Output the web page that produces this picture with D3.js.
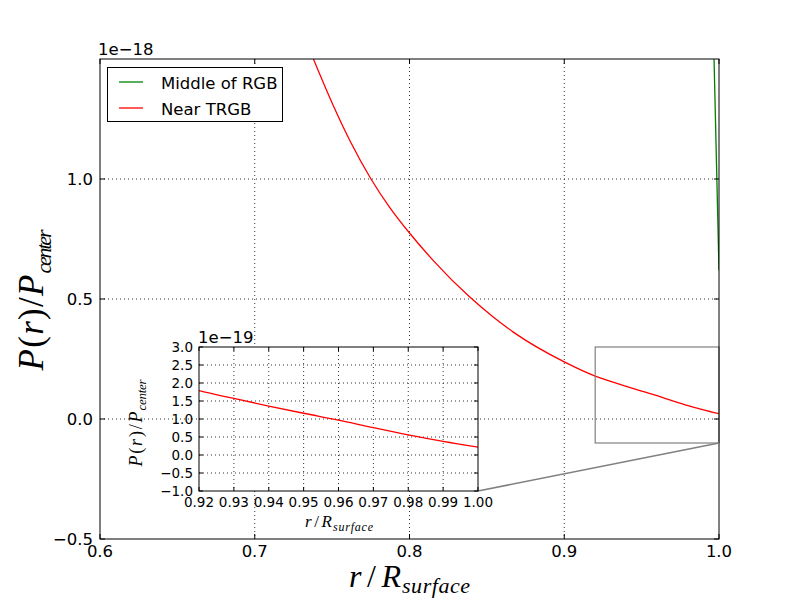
<!DOCTYPE html>
<html>
<head>
<meta charset="utf-8">
<script src="https://cdn.jsdelivr.net/npm/d3@7"></script>
<style>
  html, body { margin: 0; padding: 0; background: #fff; }
  svg { display: block; font-family: "DejaVu Sans", sans-serif; }
</style>
</head>
<body>
<svg id="chart" width="800" height="600"></svg>
<script>
// ---- data (values in units of 1e-18) ----
const redR = [0.7379, 0.7508, 0.7616, 0.7751, 0.7874, 0.8000, 0.8154, 0.8386, 0.8541,
              0.8671, 0.9000, 0.9200, 0.9300, 0.9400, 0.9500, 0.9600, 0.9700, 0.9800, 0.9900, 1.0000];
const redV = [1.500, 1.305, 1.158, 1.000, 0.880, 0.775, 0.660, 0.510, 0.425,
              0.362, 0.238, 0.179, 0.157, 0.136, 0.116, 0.097, 0.076, 0.056, 0.038, 0.022];
const greenR = [0.9968, 1.0000];
const greenV = [1.500, 0.620];

const seriesNames = ["Middle of RGB", "Near TRGB"];
const seriesColors = ["#008000", "#ff0000"];

const mainXTicks = [0.6, 0.7, 0.8, 0.9, 1.0];
const mainYTicks = [-0.5, 0.0, 0.5, 1.0];
const insetXTicks = [0.92, 0.93, 0.94, 0.95, 0.96, 0.97, 0.98, 0.99, 1.00];
const insetYTicks = [-0.10, -0.05, 0.00, 0.05, 0.10, 0.15, 0.20, 0.25, 0.30];
const zoomBox = { r0: 0.92, r1: 1.00, v0: -0.10, v1: 0.30 };

const svg = d3.select("#chart");
svg.append("rect").attr("width", 800).attr("height", 600).attr("fill", "#fff");

const fmtMinus = s => s.replace("-", "\u2212");
const SERIF = "'Liberation Serif', 'DejaVu Serif', serif";

// ---- main axes ----
const M = { left: 100, right: 719, top: 59, bottom: 539 };
const x = d3.scaleLinear().domain([0.6, 1.0]).range([M.left, M.right]);
const y = d3.scaleLinear().domain([-0.5, 1.5]).range([M.bottom, M.top]);

svg.append("clipPath").attr("id", "clipMain").append("rect")
  .attr("x", M.left).attr("y", M.top).attr("width", M.right - M.left).attr("height", M.bottom - M.top);

const gridMain = svg.append("g");
gridMain.selectAll("line.gx").data(mainXTicks.filter(d => d > 0.6 && d < 1.0)).enter().append("line")
  .attr("x1", d => x(d)).attr("x2", d => x(d)).attr("y1", M.top).attr("y2", M.bottom)
  .attr("stroke", "#000").attr("stroke-width", 0.8).attr("stroke-dasharray", "1,3");
gridMain.selectAll("line.gy").data(mainYTicks.filter(d => d > -0.5)).enter().append("line")
  .attr("y1", d => y(d)).attr("y2", d => y(d)).attr("x1", M.left).attr("x2", M.right)
  .attr("stroke", "#000").attr("stroke-width", 0.8).attr("stroke-dasharray", "1,3");

const line = (sx, sy) => d3.line().x(d => sx(d[0])).y(d => sy(d[1]));
const redData = redR.map((r, i) => [r, redV[i]]);
const greenData = greenR.map((r, i) => [r, greenV[i]]);

const plotMain = svg.append("g").attr("clip-path", "url(#clipMain)");
plotMain.append("path").datum(greenData).attr("d", line(x, y))
  .attr("fill", "none").attr("stroke", seriesColors[0]).attr("stroke-width", 1.3);
plotMain.append("path").datum(redData).attr("d", line(x, y).curve(d3.curveMonotoneX))
  .attr("fill", "none").attr("stroke", seriesColors[1]).attr("stroke-width", 1.3);

// zoom box
svg.append("rect")
  .attr("x", x(zoomBox.r0)).attr("y", y(zoomBox.v1))
  .attr("width", x(zoomBox.r1) - x(zoomBox.r0)).attr("height", y(zoomBox.v0) - y(zoomBox.v1))
  .attr("fill", "none").attr("stroke", "#808080").attr("stroke-width", 1.2);

// main frame
svg.append("rect").attr("x", M.left).attr("y", M.top)
  .attr("width", M.right - M.left).attr("height", M.bottom - M.top)
  .attr("fill", "none").attr("stroke", "#000").attr("stroke-width", 1);

// main ticks (inward, all sides)
const tickLen = 5;
const tg = svg.append("g");
mainXTicks.forEach(d => {
  tg.append("line").attr("x1", x(d)).attr("x2", x(d)).attr("y1", M.bottom).attr("y2", M.bottom - tickLen).attr("stroke", "#000");
  tg.append("line").attr("x1", x(d)).attr("x2", x(d)).attr("y1", M.top).attr("y2", M.top + tickLen).attr("stroke", "#000");
});
mainYTicks.forEach(d => {
  tg.append("line").attr("y1", y(d)).attr("y2", y(d)).attr("x1", M.left).attr("x2", M.left + tickLen).attr("stroke", "#000");
  tg.append("line").attr("y1", y(d)).attr("y2", y(d)).attr("x1", M.right).attr("x2", M.right - tickLen).attr("stroke", "#000");
});
svg.append("g").selectAll("text").data(mainXTicks).enter().append("text")
  .attr("x", d => x(d)).attr("y", 557).attr("text-anchor", "middle").attr("font-size", 16.5)
  .text(d => d.toFixed(1));
svg.append("g").selectAll("text").data(mainYTicks).enter().append("text")
  .attr("x", M.left - 7).attr("y", d => y(d) + 6).attr("text-anchor", "end").attr("font-size", 16.5)
  .text(d => fmtMinus(d.toFixed(1)));
svg.append("text").attr("x", 98).attr("y", 55).attr("font-size", 16.5).text("1e\u221218");

// math-style label
function mathLabel(cx, cy, angle, mainParts, sub, size, subSize, mainLen, subLen, shift) {
  const g = svg.append("g").attr("transform", `translate(${cx},${cy}) rotate(${angle})`);
  const total = mainLen + subLen + 1;
  const x0 = -total / 2;
  const t = g.append("text").attr("x", x0).attr("y", 0)
    .attr("font-family", SERIF)
    .attr("font-size", size).attr("textLength", mainLen).attr("lengthAdjust", "spacing");
  mainParts.forEach(p => t.append("tspan").attr("font-style", p[1] ? "italic" : "normal").text(p[0]));
  g.append("text").attr("x", x0 + mainLen + 1).attr("y", shift)
    .attr("font-family", SERIF).attr("font-style", "italic")
    .attr("font-size", subSize).attr("textLength", subLen).attr("lengthAdjust", "spacing")
    .text(sub);
}
const yLabParts = [["P", 1], ["(", 0], ["r", 1], [")", 0], ["/", 0], ["P", 1]];
const xLabParts = [["r", 1], ["/", 0], ["R", 1]];
mathLabel(409.5, 587, 0, xLabParts, "surface", 32, 22, 52, 68, 6);
mathLabel(43, 300, -90, yLabParts, "center", 35, 22, 96, 44, 8);

// legend
const lg = svg.append("g");
lg.append("rect").attr("x", 107.5).attr("y", 67.5).attr("width", 175).attr("height", 54)
  .attr("fill", "#fff").attr("stroke", "#000").attr("stroke-width", 1);
seriesNames.forEach((n, i) => {
  const ly = 82 + i * 26;
  lg.append("line").attr("x1", 119).attr("x2", 143).attr("y1", ly).attr("y2", ly)
    .attr("stroke", seriesColors[i]).attr("stroke-width", 1.3);
  lg.append("text").attr("x", 161).attr("y", ly + 7).attr("font-size", 16.5).text(n);
});

// ---- inset ----
const I = { left: 199, right: 478, top: 347, bottom: 491 };
const xi = d3.scaleLinear().domain([0.92, 1.00]).range([I.left, I.right]);
const yi = d3.scaleLinear().domain([-0.10, 0.30]).range([I.bottom, I.top]);

// connector from inset corner to zoom box corner
svg.append("line")
  .attr("x1", xi(1.00)).attr("y1", yi(-0.10))
  .attr("x2", x(zoomBox.r1)).attr("y2", y(zoomBox.v0))
  .attr("stroke", "#808080").attr("stroke-width", 1.5);

svg.append("rect").attr("x", I.left).attr("y", I.top)
  .attr("width", I.right - I.left).attr("height", I.bottom - I.top).attr("fill", "#fff");
svg.append("clipPath").attr("id", "clipInset").append("rect")
  .attr("x", I.left).attr("y", I.top).attr("width", I.right - I.left).attr("height", I.bottom - I.top);

const gi = svg.append("g");
insetXTicks.slice(1, -1).forEach(d => gi.append("line")
  .attr("x1", xi(d)).attr("x2", xi(d)).attr("y1", I.top).attr("y2", I.bottom)
  .attr("stroke", "#000").attr("stroke-width", 0.8).attr("stroke-dasharray", "1,3"));
insetYTicks.slice(1, -1).forEach(d => gi.append("line")
  .attr("y1", yi(d)).attr("y2", yi(d)).attr("x1", I.left).attr("x2", I.right)
  .attr("stroke", "#000").attr("stroke-width", 0.8).attr("stroke-dasharray", "1,3"));

svg.append("g").attr("clip-path", "url(#clipInset)")
  .append("path").datum(redData.filter(d => d[0] >= 0.9)).attr("d", line(xi, yi).curve(d3.curveMonotoneX))
  .attr("fill", "none").attr("stroke", seriesColors[1]).attr("stroke-width", 1.3);

svg.append("rect").attr("x", I.left).attr("y", I.top)
  .attr("width", I.right - I.left).attr("height", I.bottom - I.top)
  .attr("fill", "none").attr("stroke", "#000").attr("stroke-width", 1);

const tl = 4;
insetXTicks.forEach(d => {
  gi.append("line").attr("x1", xi(d)).attr("x2", xi(d)).attr("y1", I.bottom).attr("y2", I.bottom - tl).attr("stroke", "#000");
  gi.append("line").attr("x1", xi(d)).attr("x2", xi(d)).attr("y1", I.top).attr("y2", I.top + tl).attr("stroke", "#000");
});
insetYTicks.forEach(d => {
  gi.append("line").attr("y1", yi(d)).attr("y2", yi(d)).attr("x1", I.left).attr("x2", I.left + tl).attr("stroke", "#000");
  gi.append("line").attr("y1", yi(d)).attr("y2", yi(d)).attr("x1", I.right).attr("x2", I.right - tl).attr("stroke", "#000");
});
svg.append("g").selectAll("text").data(insetXTicks).enter().append("text")
  .attr("x", d => xi(d)).attr("y", 507).attr("text-anchor", "middle").attr("font-size", 13.5)
  .text(d => d.toFixed(2));
svg.append("g").selectAll("text").data(insetYTicks).enter().append("text")
  .attr("x", I.left - 6).attr("y", d => yi(d) + 5).attr("text-anchor", "end").attr("font-size", 13.5)
  .text(d => fmtMinus((d * 10).toFixed(1)));
svg.append("text").attr("x", 198).attr("y", 343).attr("font-size", 16.5).text("1e\u221219");

mathLabel(339, 527, 0, xLabParts, "surface", 17, 12, 27, 40, 4);
mathLabel(142, 423, -90, yLabParts, "center", 18, 13, 55, 31, 4);
</script>
</body>
</html>
